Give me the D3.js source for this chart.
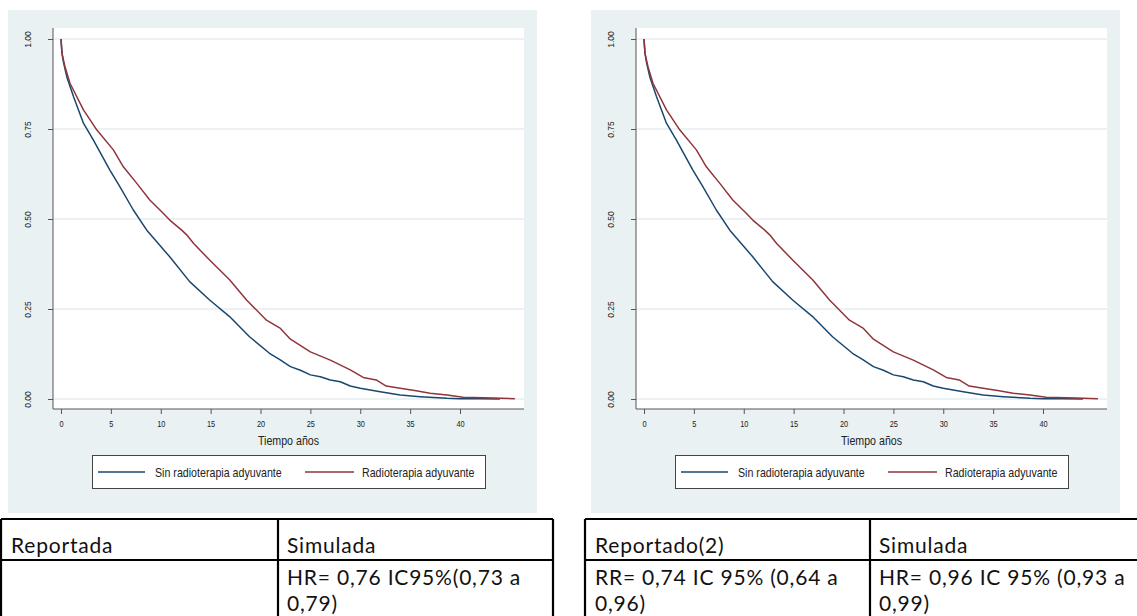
<!DOCTYPE html>
<html>
<head>
<meta charset="utf-8">
<script src="https://cdn.jsdelivr.net/npm/d3@7"></script>
<style>
  body { margin: 0; background: #ffffff; }
  svg { display: block; }
  .ax { font-family: "Liberation Sans", Arial, sans-serif; fill: #222; }
  .tbl { font-family: Lato, "Open Sans", sans-serif; fill: #111; }
</style>
</head>
<body>
<div id="chart"></div>
<script>
// Kaplan-Meier curves
var sinTime = [0, 0.1, 0.25, 0.6, 1.25, 2.25, 3.25, 4.9, 5.9, 7.25, 8.6, 10.9, 12.9, 14.9, 16.9, 18.9, 20.9, 21.9, 23, 24, 25, 26, 27, 28, 29, 30, 32, 34, 36, 38.7, 40, 42, 44];
var sinSurv = [1.0, 0.96, 0.935, 0.893, 0.840, 0.766, 0.719, 0.636, 0.590, 0.525, 0.469, 0.395, 0.326, 0.275, 0.229, 0.173, 0.127, 0.110, 0.090, 0.080, 0.067, 0.062, 0.053, 0.048, 0.036, 0.030, 0.020, 0.011, 0.0065, 0.002, 0.001, 0.001, 0.0];
var radTime = [0, 0.1, 0.4, 0.9, 2.25, 3.6, 5.25, 6.25, 7.6, 8.9, 10.25, 10.9, 12.1, 12.6, 13.3, 14.9, 16.9, 18.6, 20.6, 22, 23, 25, 27, 29, 30.3, 31.6, 32.6, 34, 35.6, 37, 38.7, 40.3, 43.3, 45.5];
var radSurv = [1.0, 0.96, 0.923, 0.877, 0.803, 0.747, 0.692, 0.645, 0.599, 0.553, 0.516, 0.497, 0.469, 0.456, 0.432, 0.386, 0.331, 0.275, 0.219, 0.196, 0.166, 0.131, 0.108, 0.081, 0.060, 0.053, 0.036, 0.030, 0.023, 0.016, 0.011, 0.005, 0.003, 0.001];

var seriesNames = ["Sin radioterapia adyuvante", "Radioterapia adyuvante"];
var seriesColors = ["#1a476f", "#90353b"];
var xTicks = [0, 5, 10, 15, 20, 25, 30, 35, 40];
var yTicks = [0, 0.25, 0.5, 0.75, 1];
var xTitle = "Tiempo años";

var leftHeader = ["Reportada", "Simulada"];
var leftRow = [[], ["HR= 0,76 IC95%(0,73 a", "0,79)"]];
var rightHeader = ["Reportado(2)", "Simulada"];
var rightRow = [["RR= 0,74 IC 95% (0,64 a", "0,96)"], ["HR= 0,96 IC 95% (0,93 a", "0,99)"]];

var W = 1137, H = 616;
var svg = d3.select("#chart").append("svg").attr("width", W).attr("height", H);

// stata text looks condensed horizontally
var narrowText = function (g, x, y, str, size, anchor) {
    return g.append("text").attr("class", "ax")
        .attr("transform", "translate(" + x + "," + y + ") scale(0.82,1)")
        .attr("text-anchor", anchor || "start")
        .style("font-size", size + "px")
        .text(str);
};

var drawPanel = function (ox) {
    var g = svg.append("g").attr("transform", "translate(" + ox + ",0)");
    var plotL = 53, plotR = 524, plotT = 28, plotB = 409;

    var x = d3.scaleLinear().domain([0, 40]).range([61, 460]);
    var y = d3.scaleLinear().domain([0, 1]).range([399, 39]);

    g.append("rect").attr("x", 8).attr("y", 10).attr("width", 529).attr("height", 503).style("fill", "#e9f1f3");
    g.append("rect").attr("x", plotL).attr("y", plotT).attr("width", plotR - plotL).attr("height", plotB - plotT).style("fill", "#ffffff");

    g.selectAll(".grid").data(yTicks).enter().append("line")
        .attr("x1", plotL).attr("x2", plotR)
        .attr("y1", function (d) { return y(d); })
        .attr("y2", function (d) { return y(d); })
        .attr("stroke", "#e6eef1").attr("stroke-width", 1.6);

    var line = d3.line()
        .x(function (d) { return x(d[0]); })
        .y(function (d) { return y(d[1]); });

    var sets = [d3.zip(sinTime, sinSurv), d3.zip(radTime, radSurv)];
    sets.forEach(function (s, i) {
        g.append("path").datum(s)
            .attr("d", line)
            .attr("fill", "none")
            .attr("stroke", seriesColors[i])
            .attr("stroke-width", 1.5)
            .attr("stroke-linejoin", "round");
    });

    // axes
    var ya = g.append("g").attr("transform", "translate(" + plotL + ",0)")
        .call(d3.axisLeft(y).tickValues(yTicks).tickSize(5).tickSizeOuter(0).tickFormat(d3.format(".2f")));
    ya.select(".domain").remove();
    ya.selectAll("line").attr("stroke", "#555");
    ya.selectAll("text")
        .attr("class", "ax")
        .attr("transform", "rotate(-90)")
        .attr("x", 0).attr("y", -22).attr("dy", 0)
        .attr("text-anchor", "middle")
        .style("font-size", "8.5px");

    var xa = g.append("g").attr("transform", "translate(0," + plotB + ")")
        .call(d3.axisBottom(x).tickValues(xTicks).tickSize(5).tickSizeOuter(0).tickPadding(7));
    xa.select(".domain").remove();
    xa.selectAll("line").attr("stroke", "#555");
    xa.selectAll("text").attr("class", "ax").attr("transform", "scale(0.82,1)").style("font-size", "9px");

    g.append("line").attr("x1", plotL).attr("x2", plotL).attr("y1", plotT).attr("y2", plotB).attr("stroke", "#555");
    g.append("line").attr("x1", plotL).attr("x2", plotR).attr("y1", plotB).attr("y2", plotB).attr("stroke", "#555");

    narrowText(g, (plotL + plotR) / 2, 445, xTitle, 13, "middle");

    // legend
    g.append("rect").attr("x", 92.5).attr("y", 455.5).attr("width", 393).attr("height", 33)
        .style("fill", "#fff").style("stroke", "#444").style("stroke-width", 1);
    var lx = [[98, 145, 155], [305, 354, 362]];
    seriesNames.forEach(function (n, i) {
        g.append("line").attr("x1", lx[i][0]).attr("x2", lx[i][1]).attr("y1", 472).attr("y2", 472)
            .attr("stroke", seriesColors[i]).attr("stroke-width", 1.5);
        narrowText(g, lx[i][2], 476.5, n, 13);
    });
};

drawPanel(0);
drawPanel(583);

var drawTable = function (left, mid, right, header, row) {
    var t = svg.append("g").attr("class", "tbl");
    var top = 519, div = 560, bottom = 640;
    [[left, top, right, top], [left, div, right, div], [left, top, left, bottom], [mid, top, mid, bottom], [right, top, right, bottom]]
        .forEach(function (l) {
            t.append("line").attr("x1", l[0]).attr("y1", l[1]).attr("x2", l[2]).attr("y2", l[3])
                .attr("stroke", "#000").attr("stroke-width", 2.2);
        });
    var cx = [left + 10, mid + 9];
    header.forEach(function (h, i) {
        t.append("text").attr("x", cx[i]).attr("y", 553)
            .style("font-size", "21px").style("letter-spacing", "0.8px").text(h);
    });
    row.forEach(function (lines, i) {
        lines.forEach(function (s, j) {
            t.append("text").attr("x", cx[i]).attr("y", 585 + j * 26)
                .style("font-size", "21px").style("letter-spacing", "0.8px").text(s);
        });
    });
};

drawTable(1, 278, 553, leftHeader, leftRow);
drawTable(585, 870, 1140, rightHeader, rightRow);
</script>
</body>
</html>
